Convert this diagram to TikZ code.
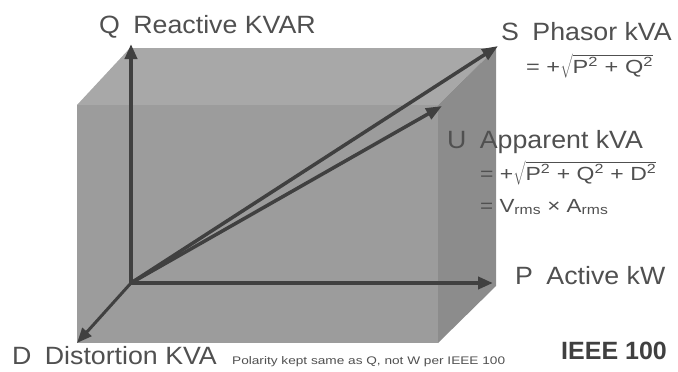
\documentclass[tikz,border=0pt]{standalone}
\usepackage{fontspec}
\usepackage{graphicx}
\setmainfont{Liberation Sans}
\usetikzlibrary{arrows.meta}
\definecolor{topface}{HTML}{A8A8A8}
\definecolor{frontface}{HTML}{9C9C9C}
\definecolor{sideface}{HTML}{8C8C8C}
\definecolor{arrowc}{HTML}{404040}
\definecolor{txt}{HTML}{505050}
\newcommand{\widen}[2]{\scalebox{#1}[1]{#2}}
\tikzset{
  axis/.style={draw=arrowc, line width=4pt, -{Triangle[length=15pt,width=12pt]}},
  vec/.style={draw=arrowc, line width=3.5pt, -{Triangle[length=16pt,width=12pt]}},
  lbl/.style={anchor=base west, inner sep=0pt, text=txt, font=\fontsize{25}{28}\selectfont},
  frm/.style={anchor=base west, inner sep=0pt, text=txt, font=\fontsize{19}{22}\selectfont},
}
\begin{document}
\begin{tikzpicture}[x=1pt,y=-1pt]
\useasboundingbox (0,0) rectangle (678,372);
% box faces
\fill[topface] (77,105) -- (130,48) -- (496,48) -- (438,105) -- cycle;
\fill[sideface] (438,105) -- (496,48) -- (496,286) -- (438,343) -- cycle;
\fill[frontface] (77,105) rectangle (438,343);
% coordinates
\coordinate (O) at (131,283);
\coordinate (Qt) at (131,44);
\coordinate (Pt) at (493,283);
\coordinate (Dt) at (77,343);
\coordinate (St) at (498,46);
\coordinate (Ut) at (442,106);
% axes and vectors
\draw[axis] (O) -- (Qt);
\draw[axis] (O) -- (Pt);
\draw[axis, line width=3pt] (O) -- (Dt);
\draw[vec] (O) -- (St);
\draw[vec] (O) -- (Ut);
% labels
\node[lbl] (q) at (99,33) {\widen{1.07}{Q\enspace Reactive KVAR}};
\node[lbl] (s) at (501,40) {\widen{1.07}{S\enspace Phasor kVA}};
\node[frm] (f1) at (526,73) {\widen{1.24}{= +$\sqrt{\mbox{P\textsuperscript{2} + Q\textsuperscript{2}}}$}};
\node[lbl] (u) at (447,148) {\widen{1.07}{U\enspace Apparent kVA}};
\node[frm] (f2) at (480,180) {\widen{1.21}{= +$\sqrt{\mbox{P\textsuperscript{2} + Q\textsuperscript{2} + D\textsuperscript{2}}}$}};
\node[frm] (f3) at (480,212) {\widen{1.18}{= V\textsubscript{rms} × A\textsubscript{rms}}};
\node[lbl] (p) at (515,284) {\widen{1.07}{P\enspace Active kW}};
\node[lbl] (d) at (12,364) {\widen{1.07}{D\enspace Distortion KVA}};
\node[anchor=base west, inner sep=0pt, text=txt, font=\fontsize{11}{12}\selectfont] (n) at (232,364) {\widen{1.24}{Polarity kept same as Q, not W per IEEE 100}};
\node[anchor=base west, inner sep=0pt, text=arrowc, font=\fontsize{25}{28}\selectfont\bfseries] (ieee) at (561,359) {IEEE 100};
\end{tikzpicture}
\end{document}
